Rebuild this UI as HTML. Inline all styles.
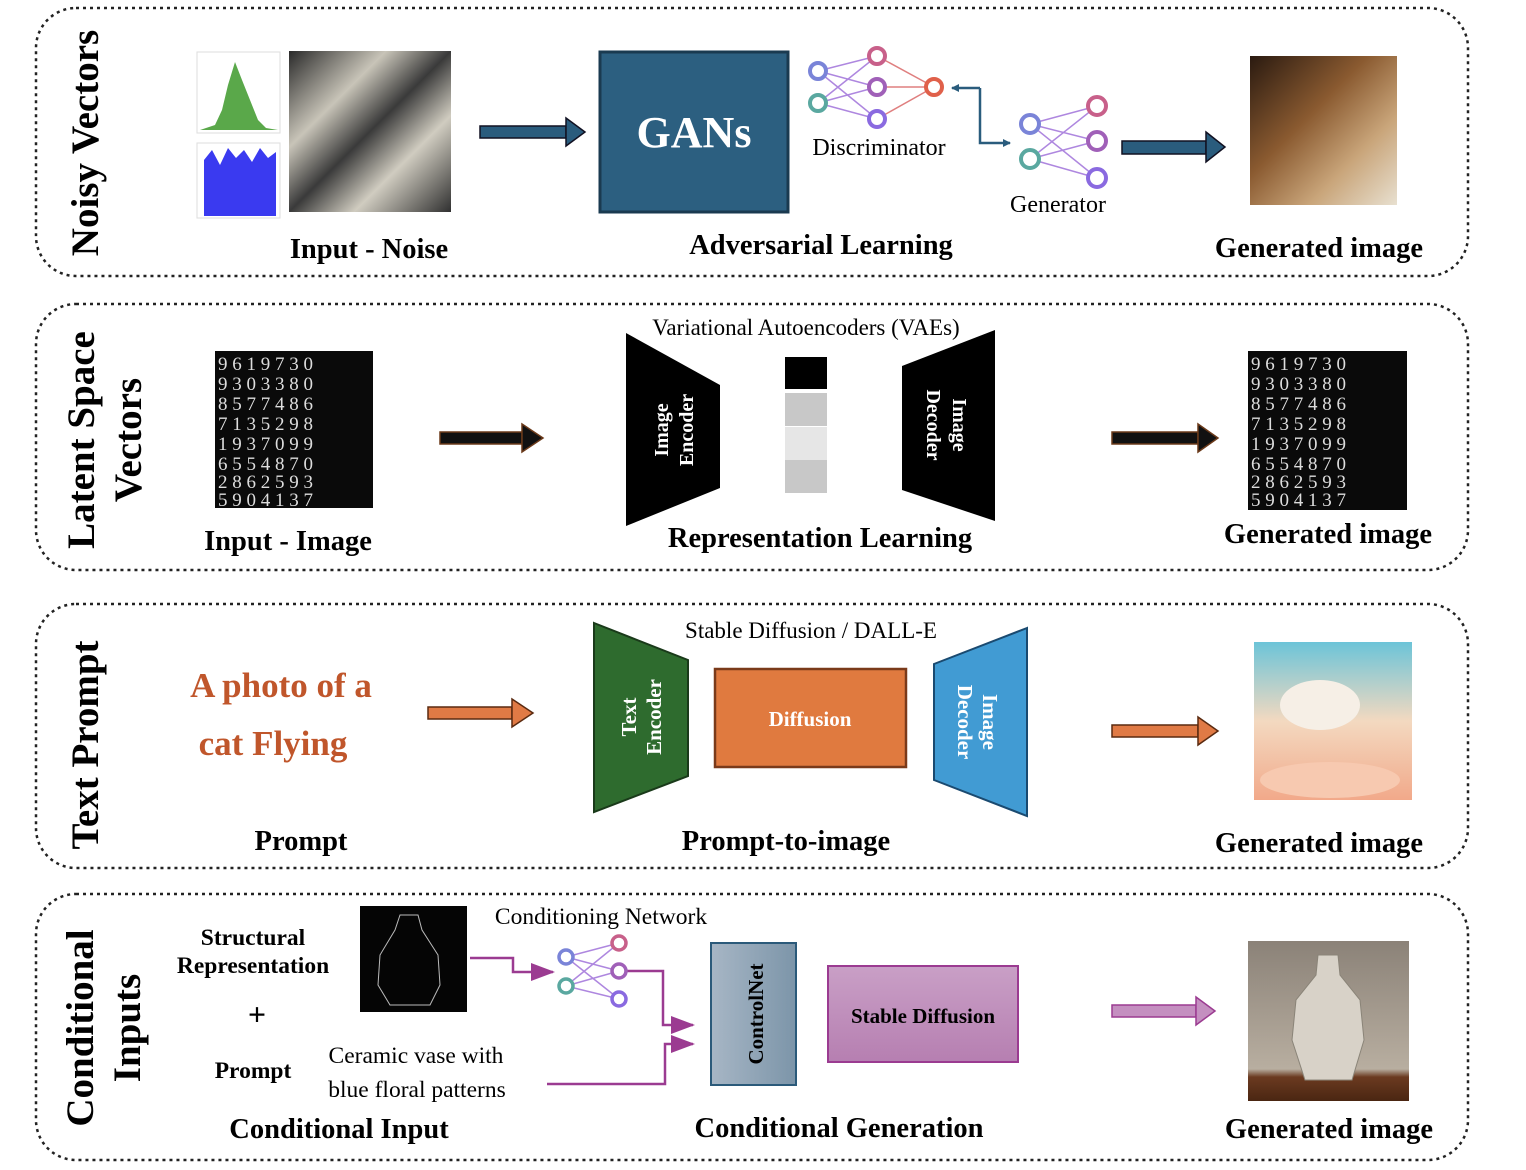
<!DOCTYPE html>
<html><head><meta charset="utf-8"><style>
html,body{margin:0;padding:0;background:#fff}
svg{display:block}
text{font-family:"Liberation Serif",serif}
</style></head><body>
<svg width="1526" height="1170" viewBox="0 0 1526 1170" xmlns="http://www.w3.org/2000/svg">
<defs>
<marker id="mb" markerWidth="8" markerHeight="8" refX="7" refY="4" orient="auto" markerUnits="userSpaceOnUse"><path d="M0,0 L8,4 L0,8 z" fill="#2a5c7d"/></marker>
<marker id="mp" markerWidth="24" markerHeight="18" refX="22" refY="9" orient="auto" markerUnits="userSpaceOnUse"><path d="M0,0 L24,9 L0,18 z" fill="#9b3b91"/></marker>
<linearGradient id="gc" x1="0" x2="1"><stop offset="0" stop-color="#a7b6c5"/><stop offset="1" stop-color="#7c95a9"/></linearGradient>
<linearGradient id="gs" x1="0" y1="0" x2="0" y2="1"><stop offset="0" stop-color="#c99fc6"/><stop offset="1" stop-color="#b67fb1"/></linearGradient>
<linearGradient id="gn" x1="0" y1="0" x2="1" y2="1"><stop offset="0" stop-color="#2a2a2a"/><stop offset="0.3" stop-color="#c8c4b8"/><stop offset="0.5" stop-color="#3a3a3a"/><stop offset="0.7" stop-color="#d0ccc0"/><stop offset="1" stop-color="#303030"/></linearGradient>
<linearGradient id="gg" x1="0" y1="0" x2="1" y2="1"><stop offset="0" stop-color="#2a1a10"/><stop offset="0.4" stop-color="#8a5a30"/><stop offset="0.7" stop-color="#c9a57a"/><stop offset="1" stop-color="#e8e0d0"/></linearGradient>
<linearGradient id="gcat" x1="0" y1="0" x2="0" y2="1"><stop offset="0" stop-color="#6cc4d8"/><stop offset="0.5" stop-color="#f3d9c0"/><stop offset="1" stop-color="#f2a98a"/></linearGradient>
<linearGradient id="gv" x1="0" y1="0" x2="0" y2="1"><stop offset="0" stop-color="#8b8278"/><stop offset="0.8" stop-color="#b8aea0"/><stop offset="0.85" stop-color="#6b3a20"/><stop offset="1" stop-color="#4a2612"/></linearGradient>
</defs>

<g fill="none" stroke="#222" stroke-width="2.5" stroke-dasharray="3 4">
<rect x="36" y="8" width="1432" height="268" rx="40"/>
<rect x="36" y="304" width="1432" height="266" rx="40"/>
<rect x="36" y="604" width="1432" height="264" rx="40"/>
<rect x="36" y="894" width="1432" height="266" rx="40"/>
</g>

<g font-size="39" text-anchor="middle" font-weight="bold">
<text transform="translate(98,143) rotate(-90)">Noisy Vectors</text>
<text transform="translate(94,440) rotate(-90)">Latent Space</text>
<text transform="translate(141,440) rotate(-90)">Vectors</text>
<text transform="translate(98,745) rotate(-90)">Text Prompt</text>
<text transform="translate(93,1028) rotate(-90)">Conditional</text>
<text transform="translate(140,1028) rotate(-90)">Inputs</text>
</g>

<!-- Panel 1 -->
<rect x="197" y="52" width="83" height="81" fill="#fff" stroke="#ddd"/>
<path d="M200,130 L215,125 L222,110 L228,85 L235,62 L242,80 L250,100 L258,120 L266,128 L278,130 Z" fill="#5aa84a"/>
<rect x="197" y="143" width="83" height="75" fill="#fff" stroke="#ddd"/>
<path d="M204,216 L204,160 L212,150 L220,165 L228,148 L236,158 L244,150 L252,162 L260,148 L268,158 L276,152 L276,216 Z" fill="#3a3af0"/>
<rect x="289" y="51" width="162" height="161" fill="url(#gn)"/>
<rect x="480" y="126" width="86" height="12" fill="#2a5c7d" stroke="#112" stroke-width="1.5"/>
<path d="M566,118 L585,132 L566,146 Z" fill="#2a5c7d" stroke="#112" stroke-width="1.5"/>
<rect x="600" y="52" width="188" height="160" fill="#2c5f80" stroke="#1a3a50" stroke-width="3"/>
<text x="694" y="147" font-size="44" font-weight="bold" fill="#fff" text-anchor="middle">GANs</text>

<g stroke-width="1.5" opacity="0.8">
<path d="M818,71 L877,56 M818,71 L877,87 M818,71 L877,119 M818,103 L877,56 M818,103 L877,87 M818,103 L877,119" stroke="#9b6ad8"/>
<path d="M877,56 L934,87 M877,87 L934,87 M877,119 L934,87" stroke="#d86060"/>
<path d="M1030,124 L1097,106 M1030,124 L1097,141 M1030,124 L1097,178 M1030,159 L1097,106 M1030,159 L1097,141 M1030,159 L1097,178" stroke="#9b6ad8"/>
</g>
<g fill="#fff" stroke-width="4">
<circle cx="818" cy="71" r="8" stroke="#7a84d8"/><circle cx="818" cy="103" r="8" stroke="#5aa8a0"/>
<circle cx="877" cy="56" r="8" stroke="#c8608a"/><circle cx="877" cy="87" r="8" stroke="#a060b8"/><circle cx="877" cy="119" r="8" stroke="#8a6ae0"/>
<circle cx="934" cy="87" r="8" stroke="#e0604a"/>
<circle cx="1030" cy="124" r="9" stroke="#7a84d8"/><circle cx="1030" cy="159" r="9" stroke="#5aa8a0"/>
<circle cx="1097" cy="106" r="9" stroke="#c8608a"/><circle cx="1097" cy="141" r="9" stroke="#a060b8"/><circle cx="1097" cy="178" r="9" stroke="#8a6ae0"/>
</g>
<path d="M980,88 L980,143 L1010,143" fill="none" stroke="#2a5c7d" stroke-width="2.5" marker-end="url(#mb)"/>
<path d="M980,88 L952,88" fill="none" stroke="#2a5c7d" stroke-width="2.5" marker-end="url(#mb)"/>
<text x="879" y="155" font-size="24" text-anchor="middle">Discriminator</text>
<text x="1058" y="212" font-size="24" text-anchor="middle">Generator</text>
<rect x="1122" y="141" width="84" height="13" fill="#2a5c7d" stroke="#112" stroke-width="1.5"/>
<path d="M1206,132 L1225,147 L1206,162 Z" fill="#2a5c7d" stroke="#112" stroke-width="1.5"/>
<rect x="1250" y="56" width="147" height="149" fill="url(#gg)"/>

<g font-size="28.5" font-weight="bold" text-anchor="middle">
<text x="369" y="258">Input - Noise</text>
<text x="821" y="254">Adversarial Learning</text>
<text x="1319" y="257">Generated image</text>
</g>

<!-- Panel 2 -->
<rect x="215" y="351" width="158" height="157" fill="#0a0a0a"/>
<g fill="#ddd" font-size="19" font-family="Liberation Mono">
<text x="218" y="370">9 6 1 9 7 3 0</text><text x="218" y="390">9 3 0 3 3 8 0</text><text x="218" y="410">8 5 7 7 4 8 6</text><text x="218" y="430">7 1 3 5 2 9 8</text><text x="218" y="450">1 9 3 7 0 9 9</text><text x="218" y="470">6 5 5 4 8 7 0</text><text x="218" y="488">2 8 6 2 5 9 3</text><text x="218" y="506">5 9 0 4 1 3 7</text>
</g>
<rect x="440" y="432" width="82" height="12" fill="#111" stroke="#6b3a1a" stroke-width="1.5"/>
<path d="M522,424 L543,438 L522,452 Z" fill="#111" stroke="#6b3a1a" stroke-width="1.5"/>
<path d="M626,333 L720,385 L720,488 L626,526 Z" fill="#000"/>
<text transform="translate(668,430) rotate(-90)" font-size="20" font-weight="bold" fill="#fff" text-anchor="middle">Image</text>
<text transform="translate(693,430) rotate(-90)" font-size="20" font-weight="bold" fill="#fff" text-anchor="middle">Encoder</text>
<rect x="785" y="357" width="42" height="32" fill="#000"/>
<rect x="785" y="393" width="42" height="33" fill="#c8c8c8"/>
<rect x="785" y="427" width="42" height="33" fill="#e6e6e6"/>
<rect x="785" y="460" width="42" height="33" fill="#c8c8c8"/>
<path d="M995,330 L902,366 L902,490 L995,521 Z" fill="#000"/>
<text transform="translate(953,425) rotate(90)" font-size="20" font-weight="bold" fill="#fff" text-anchor="middle">Image</text>
<text transform="translate(927,425) rotate(90)" font-size="20" font-weight="bold" fill="#fff" text-anchor="middle">Decoder</text>
<text x="806" y="335" font-size="23" text-anchor="middle">Variational Autoencoders (VAEs)</text>
<rect x="1112" y="432" width="86" height="12" fill="#111" stroke="#6b3a1a" stroke-width="1.5"/>
<path d="M1198,424 L1218,438 L1198,452 Z" fill="#111" stroke="#6b3a1a" stroke-width="1.5"/>
<rect x="1248" y="351" width="159" height="159" fill="#0a0a0a"/>
<g fill="#ddd" font-size="19" font-family="Liberation Mono">
<text x="1251" y="370">9 6 1 9 7 3 0</text><text x="1251" y="390">9 3 0 3 3 8 0</text><text x="1251" y="410">8 5 7 7 4 8 6</text><text x="1251" y="430">7 1 3 5 2 9 8</text><text x="1251" y="450">1 9 3 7 0 9 9</text><text x="1251" y="470">6 5 5 4 8 7 0</text><text x="1251" y="488">2 8 6 2 5 9 3</text><text x="1251" y="506">5 9 0 4 1 3 7</text>
</g>
<g font-size="28.5" font-weight="bold" text-anchor="middle">
<text x="288" y="550">Input - Image</text>
<text x="820" y="547">Representation Learning</text>
<text x="1328" y="543">Generated image</text>
</g>

<!-- Panel 3 -->
<g font-size="35" font-weight="bold" fill="#c0562b" text-anchor="middle">
<text x="281" y="697">A photo of a</text>
<text x="273" y="755">cat Flying</text>
</g>
<rect x="428" y="707" width="84" height="12" fill="#e07a45" stroke="#5a2a10" stroke-width="1.5"/>
<path d="M512,699 L533,713 L512,727 Z" fill="#e07a45" stroke="#5a2a10" stroke-width="1.5"/>
<path d="M594,623 L688,660 L688,776 L594,812 Z" fill="#2e6b2e" stroke="#1a3a1a" stroke-width="2"/>
<text transform="translate(636,717) rotate(-90)" font-size="21" font-weight="bold" fill="#fff" text-anchor="middle">Text</text>
<text transform="translate(661,717) rotate(-90)" font-size="21" font-weight="bold" fill="#fff" text-anchor="middle">Encoder</text>
<rect x="715" y="669" width="191" height="98" fill="#e07a3f" stroke="#7a3a1a" stroke-width="2.5"/>
<text x="810" y="726" font-size="21" font-weight="bold" fill="#fff" text-anchor="middle">Diffusion</text>
<path d="M1027,628 L934,664 L934,780 L1027,816 Z" fill="#419bd3" stroke="#1a4a70" stroke-width="2"/>
<text transform="translate(983,722) rotate(90)" font-size="21" font-weight="bold" fill="#fff" text-anchor="middle">Image</text>
<text transform="translate(958,722) rotate(90)" font-size="21" font-weight="bold" fill="#fff" text-anchor="middle">Decoder</text>
<text x="811" y="638" font-size="23" text-anchor="middle">Stable Diffusion / DALL-E</text>
<rect x="1112" y="725" width="86" height="12" fill="#e07a45" stroke="#5a2a10" stroke-width="1.5"/>
<path d="M1198,717 L1218,731 L1198,745 Z" fill="#e07a45" stroke="#5a2a10" stroke-width="1.5"/>
<rect x="1254" y="642" width="158" height="158" fill="url(#gcat)"/>
<ellipse cx="1320" cy="705" rx="40" ry="25" fill="#f6efe6"/>
<ellipse cx="1330" cy="780" rx="70" ry="18" fill="#f7c9b0"/>
<g font-size="28.5" font-weight="bold" text-anchor="middle">
<text x="301" y="850">Prompt</text>
<text x="786" y="850">Prompt-to-image</text>
<text x="1319" y="852">Generated image</text>
</g>

<!-- Panel 4 -->
<g font-size="23.5" font-weight="bold" text-anchor="middle">
<text x="253" y="945">Structural</text>
<text x="253" y="973">Representation</text>
<text x="253" y="1078">Prompt</text>
</g>
<text x="257" y="1025" font-size="32" font-weight="bold" text-anchor="middle">+</text>
<rect x="360" y="906" width="107" height="106" fill="#050505"/>
<path d="M400,915 L395,930 L380,955 L378,985 L390,1005 L430,1005 L440,985 L438,955 L422,930 L418,915 Z" fill="none" stroke="#bbb" stroke-width="1"/>
<g font-size="23.5" text-anchor="middle">
<text x="416" y="1063">Ceramic vase with</text>
<text x="417" y="1097">blue floral patterns</text>
<text x="601" y="924">Conditioning Network</text>
</g>
<g fill="none" stroke="#9b3b91" stroke-width="2.5">
<path d="M470,958 L513,958 L513,972 L553,972" marker-end="url(#mp)"/>
<path d="M627,971 L663,971 L663,1025 L693,1025" marker-end="url(#mp)"/>
<path d="M547,1084 L665,1084 L665,1044 L693,1044" marker-end="url(#mp)"/>
</g>
<g stroke-width="1.5" opacity="0.8" stroke="#9b6ad8">
<path d="M566,957 L619,943 M566,957 L619,971 M566,957 L619,999 M566,986 L619,943 M566,986 L619,971 M566,986 L619,999"/>
</g>
<g fill="#fff" stroke-width="3.5">
<circle cx="566" cy="957" r="7" stroke="#7a84d8"/><circle cx="566" cy="986" r="7" stroke="#5aa8a0"/>
<circle cx="619" cy="943" r="7" stroke="#c8608a"/><circle cx="619" cy="971" r="7" stroke="#a060b8"/><circle cx="619" cy="999" r="7" stroke="#8a6ae0"/>
</g>
<rect x="711" y="943" width="85" height="142" fill="url(#gc)" stroke="#2b5a7a" stroke-width="2"/>
<text transform="translate(763,1014) rotate(-90)" font-size="21" font-weight="bold" text-anchor="middle">ControlNet</text>
<rect x="828" y="966" width="190" height="96" fill="url(#gs)" stroke="#9b3b91" stroke-width="2"/>
<text x="923" y="1023" font-size="21" font-weight="bold" text-anchor="middle">Stable Diffusion</text>
<rect x="1112" y="1005" width="84" height="12" fill="#c48fc0" stroke="#9b3b91" stroke-width="1.5"/>
<path d="M1196,997 L1215,1011 L1196,1025 Z" fill="#c48fc0" stroke="#9b3b91" stroke-width="1.5"/>
<rect x="1248" y="941" width="161" height="160" fill="url(#gv)"/>
<path d="M1318,955 L1316,975 L1296,1000 L1292,1040 L1305,1080 L1352,1080 L1364,1040 L1360,1000 L1340,975 L1338,955 Z" fill="#d8d2c8" stroke="#8a8478"/>
<g font-size="28.5" font-weight="bold" text-anchor="middle">
<text x="339" y="1138">Conditional Input</text>
<text x="839" y="1137">Conditional Generation</text>
<text x="1329" y="1138">Generated image</text>
</g>
</svg>
</body></html>
